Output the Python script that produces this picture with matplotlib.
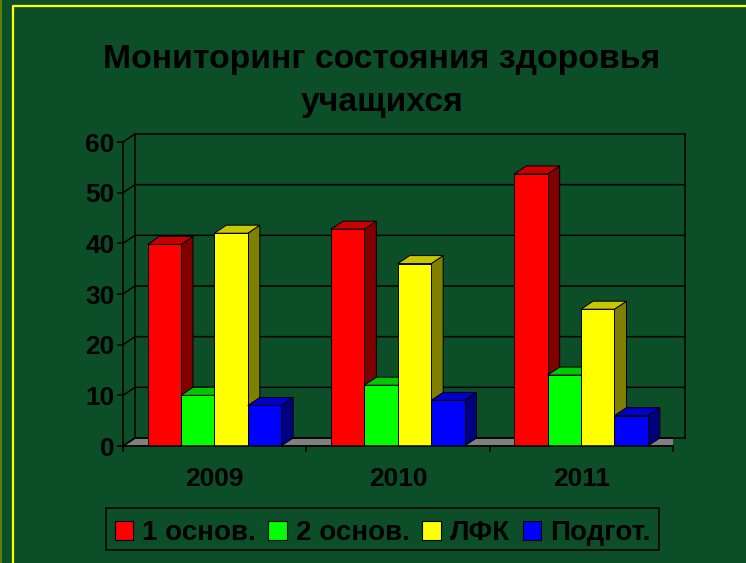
import matplotlib
matplotlib.use('Agg')
import matplotlib.pyplot as plt
from matplotlib.patches import Patch, Polygon, Rectangle

years = ['2009', '2010', '2011']
series = ['1 основ.', '2 основ.', 'ЛФК', 'Подгот.']
osn1 = [39.8, 42.8, 53.7]
osn2 = [10, 12, 14]
lfk = [42, 36, 27]
podgot = [8, 9, 6]
values = [osn1, osn2, lfk, podgot]
yticks = [0, 10, 20, 30, 40, 50, 60]
title = 'Мониторинг состояния здоровья\nучащихся'

front = ['#FF0000', '#00FF00', '#FFFF00', '#0000FF']
top = ['#C80000', '#00C800', '#C8C800', '#0000C8']
side = ['#800000', '#008000', '#808000', '#000080']
bg = '#0B4E28'

W, H = 746, 563
plt.rcParams['font.family'] = ['Liberation Sans', 'DejaVu Sans']
plt.rcParams['font.weight'] = 'bold'

fig = plt.figure(figsize=(W / 100, H / 100), dpi=100, facecolor=bg)

# frame around the slide
fig.add_artist(plt.Line2D([12.5 / W, 12.5 / W, 1], [0, 1 - 6 / H, 1 - 6 / H], color='#FFFF00', lw=1.6))
fig.add_artist(plt.Line2D([0.5 / W, 0.5 / W], [0, 1], color='#6B8E00', lw=1.2))

ax = fig.add_axes([123 / W, 1 - 446 / H, 550 / W, 304 / H], facecolor='none')
ax.set_xlim(0, 3)
ax.set_ylim(0, 60)
for s in ['top', 'right']:
    ax.spines[s].set_visible(False)
for s in ['left', 'bottom']:
    ax.spines[s].set_linewidth(1.1)
    ax.spines[s].set_color('black')
    ax.spines[s].set_zorder(50)

# depth of the fake 3d box, in data units
dx = 12 / 550 * 3
dy = 8 / 304 * 60

ax.add_patch(Polygon([(0, 0), (dx, dy), (3 + dx, dy), (3, 0)], closed=True, fc='#808080', ec='black', lw=1, zorder=1))
for y in yticks:
    ax.plot([0, dx, 3 + dx], [y, y + dy, y + dy], color='black', lw=1.1, clip_on=False, zorder=2, solid_joinstyle='miter')
ax.plot([dx, dx], [dy, 60 + dy], color='black', lw=1.1, clip_on=False, zorder=2)
ax.plot([3 + dx, 3 + dx], [dy, 60 + dy], color='black', lw=1.1, clip_on=False, zorder=2)

bw = 33.4 / 550 * 3
start = 24.6 / 550 * 3
z = 5
for g in range(len(years)):
    for i, vals in enumerate(values):
        v = vals[g]
        x0 = g + start + i * bw
        x1 = x0 + bw
        ax.add_patch(Polygon([(x1, 0), (x1 + dx, dy), (x1 + dx, v + dy), (x1, v)], closed=True,
                             fc=side[i], ec='black', lw=0.7, zorder=z, clip_on=False))
        ax.add_patch(Polygon([(x0, v), (x0 + dx, v + dy), (x1 + dx, v + dy), (x1, v)], closed=True,
                             fc=top[i], ec='black', lw=0.7, zorder=z, clip_on=False))
        ax.bar(x0, v, bw, align='edge', color=front[i], edgecolor='black', linewidth=0.7, zorder=z + 1)
        z += 2

ax.set_yticks(yticks)
ax.set_xticks([0, 1, 2, 3])
ax.set_xticklabels([])
ax.tick_params(axis='both', length=4, width=1.1, color='black')
ax.tick_params(axis='y', labelsize=19, pad=2, labelcolor='black')
for g, yr in enumerate(years):
    ax.annotate(yr, (g + 0.5, 0), xytext=(0, -23.5), textcoords='offset points', ha='center', va='center',
                fontsize=19, fontweight='bold', color='black')

fig.text(382 / W, 1 - 81 / H, title, ha='center', va='center', fontsize=24.3, fontweight='bold',
         color='black', linespacing=1.5)

# legend box drawn apart so the entries can sit a bit lower in it
fig.add_artist(Rectangle((106 / W, 1 - 550 / H), 553 / W, 42 / H, transform=fig.transFigure,
                         fc='none', ec='black', lw=1.1))
handles = [Patch(fc=front[i], ec='black', lw=0.8) for i in range(4)]
leg = fig.legend(handles, series, loc='center', bbox_to_anchor=(382.5 / W, 1 - 533 / H), ncol=4,
                 fontsize=20, frameon=False,
                 handlelength=0.66, handleheight=0.66, handletextpad=0.33, columnspacing=0.45,
                 borderpad=0.28, borderaxespad=0)

fig.savefig('out.png', dpi=100, facecolor=bg)
